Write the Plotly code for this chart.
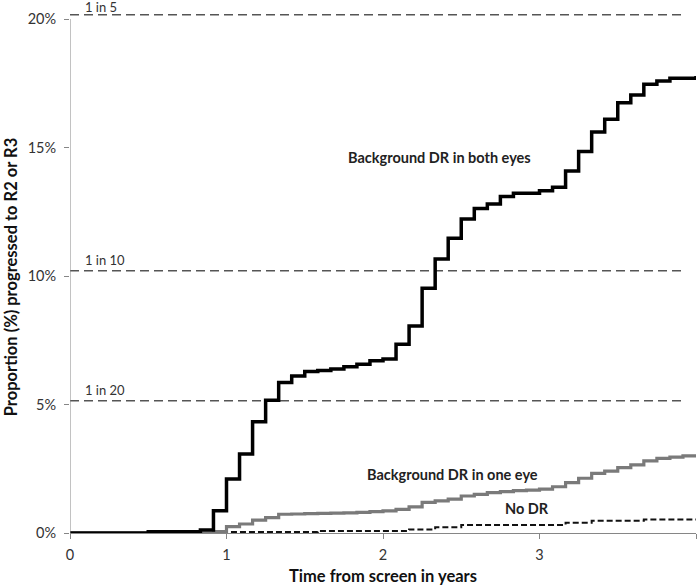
import plotly.graph_objects as go

# ---- data ----
months = list(range(0, 49))          # step times in months (0..48)
years = [m / 12 for m in months]

both_eyes = [0, 0, 0, 0, 0, 0, 0.05, 0.05, 0.05, 0.05, 0.12, 0.87, 2.1, 3.07, 4.33,
             5.17, 5.86, 6.11, 6.28, 6.32, 6.38, 6.47, 6.57, 6.70, 6.77, 7.34, 8.05,
             9.52, 10.66, 11.47, 12.22, 12.63, 12.8, 13.09, 13.22, 13.22, 13.32, 13.45,
             14.09, 14.84, 15.6, 16.1, 16.74, 17.04, 17.46, 17.59, 17.69, 17.69, 17.78]

one_eye = [0, 0, 0, 0, 0, 0, 0, 0, 0, 0, 0, 0.05, 0.25, 0.35, 0.5, 0.6, 0.73, 0.74,
           0.75, 0.76, 0.77, 0.78, 0.80, 0.83, 0.86, 0.92, 1.02, 1.19, 1.25, 1.32, 1.44,
           1.5, 1.57, 1.61, 1.65, 1.67, 1.71, 1.8, 1.96, 2.13, 2.32, 2.41, 2.54, 2.65,
           2.81, 2.9, 2.95, 3.0, 3.0]

no_dr = [0, 0, 0, 0, 0, 0, 0, 0, 0, 0, 0, 0, 0.04, 0.04, 0.04, 0.04, 0.04, 0.04, 0.04,
         0.08, 0.08, 0.08, 0.08, 0.08, 0.08, 0.08, 0.14, 0.14, 0.22, 0.22, 0.31, 0.31,
         0.31, 0.31, 0.31, 0.31, 0.31, 0.31, 0.40, 0.40, 0.48, 0.48, 0.48, 0.48, 0.53,
         0.53, 0.53, 0.53, 0.53]

ref_labels = ["1 in 5", "1 in 10", "1 in 20"]
ref_values = [20.17, 10.2, 5.15]
ref_label_offsets = [0.28, 0.42, 0.42]
ref_end = 3.93

x_ticks = [0, 1, 2, 3, 4]
y_ticks = [0, 5, 10, 15, 20]
y_ticklabels = ["0%", "5%", "10%", "15%", "20%"]

FONT = "Lato"
Y_MAX = 20.35

fig = go.Figure()

# reference dashed lines
for lab, v, off in zip(ref_labels, ref_values, ref_label_offsets):
    fig.add_trace(go.Scatter(x=[0, ref_end], y=[v, v], mode="lines",
                             line=dict(color="#555555", width=1.5, dash="9px,5px"),
                             hoverinfo="skip", showlegend=False, cliponaxis=False))
    fig.add_annotation(xref="x", yref="paper", x=0.083, y=(v + off) / Y_MAX, text=lab,
                       showarrow=False, xanchor="left", yanchor="middle",
                       font=dict(family=FONT, size=13, color="#333333"))

fig.add_trace(go.Scatter(x=years, y=no_dr, mode="lines", line_shape="hv",
                         line=dict(color="#111111", width=2, dash="6px,3px"),
                         name="No DR", showlegend=False))
fig.add_trace(go.Scatter(x=years, y=one_eye, mode="lines", line_shape="hv",
                         line=dict(color="#7a7a7a", width=3.2),
                         name="Background DR in one eye", showlegend=False))
fig.add_trace(go.Scatter(x=years, y=both_eyes, mode="lines", line_shape="hv",
                         line=dict(color="#000000", width=3.5),
                         name="Background DR in both eyes", showlegend=False))

# series labels
fig.add_annotation(x=2.364, y=14.63, text="<b>Background DR in both eyes</b>", showarrow=False,
                   font=dict(family=FONT, size=14.5, color="#222222"))
fig.add_annotation(x=2.447, y=2.26, text="<b>Background DR in one eye</b>", showarrow=False,
                   font=dict(family=FONT, size=14.5, color="#222222"))
fig.add_annotation(x=2.92, y=0.97, text="<b>No DR</b>", showarrow=False,
                   font=dict(family=FONT, size=14.5, color="#222222"))

# axis titles
fig.add_annotation(xref="paper", yref="paper", x=0.5, y=-0.083, text="<b>Time from screen in years</b>",
                   showarrow=False, xanchor="center", yanchor="middle",
                   font=dict(family=FONT, size=16.5, color="#111111"))
fig.add_annotation(xref="paper", yref="paper", x=-0.095, y=0.49,
                   text="<b>Proportion (%) progressed to R2 or R3</b>", textangle=-90,
                   showarrow=False, xanchor="center", yanchor="middle",
                   font=dict(family=FONT, size=16.5, color="#111111"))

# left axis line (only up to 20%)
fig.add_shape(type="line", xref="x", yref="y", x0=0, x1=0, y0=0, y1=20,
              line=dict(color="#868686", width=1))

fig.update_layout(
    width=700, height=586,
    margin=dict(l=70, r=4, t=10, b=53),
    paper_bgcolor="white", plot_bgcolor="white",
    font=dict(family=FONT, size=14, color="#333333"),
    xaxis=dict(range=[0, 4], tickvals=x_ticks, ticktext=[str(v) for v in x_ticks],
               showgrid=False, zeroline=False, showline=True, linecolor="#868686",
               linewidth=1, ticks="outside", ticklen=5, tickcolor="#868686", automargin=False,
               tickfont=dict(family=FONT, size=14.5, color="#333333"), ticklabelstandoff=4),
    yaxis=dict(range=[0, Y_MAX], tickvals=y_ticks, ticktext=y_ticklabels,
               showgrid=False, zeroline=False, showline=False, automargin=False,
               ticks="outside", ticklen=5, tickcolor="#868686",
               tickfont=dict(family=FONT, size=14.5, color="#333333"), ticklabelstandoff=5),
)

fig.write_html("out.html", config={"displayModeBar": False},
               post_script="document.body.style.margin='0px';document.body.style.overflow='hidden';")
